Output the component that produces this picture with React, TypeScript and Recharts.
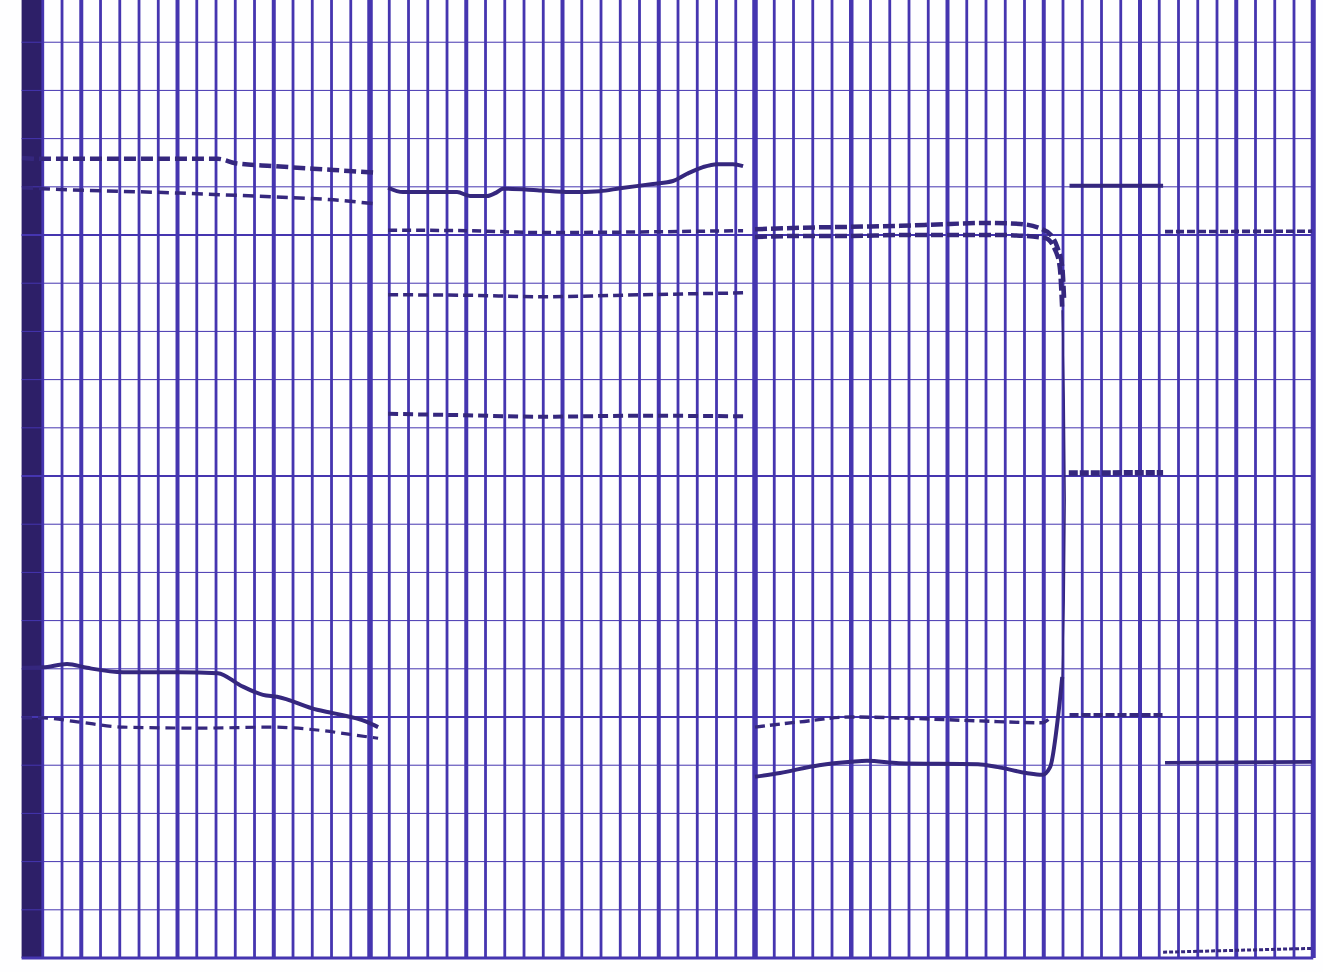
import { Line, LineChart, ReferenceArea, ReferenceLine, XAxis, YAxis } from 'recharts';

// chart paper units: x = minor divisions from the left edge, y = minor divisions above the bottom edge
type Pt = { x: number; y: number };

const gridX = Array.from({ length: 67 }, (_, i) => i);
const gridY = Array.from({ length: 20 }, (_, i) => i);

// panel 1
const p1Top: Pt[] = [
  { x: -1.08, y: 16.6 }, { x: 0, y: 16.58 }, { x: 3, y: 16.58 }, { x: 6.1, y: 16.58 },
  { x: 9.1, y: 16.58 }, { x: 10, y: 16.49 }, { x: 12, y: 16.43 }, { x: 15.1, y: 16.35 }, { x: 17.4, y: 16.29 },
];
const p1Second: Pt[] = [
  { x: -1.08, y: 15.98 }, { x: 0, y: 15.96 }, { x: 7.1, y: 15.87 }, { x: 12, y: 15.79 },
  { x: 15.1, y: 15.73 }, { x: 17.4, y: 15.64 },
];
const p1Solid: Pt[] = [
  { x: -1.08, y: 6.02 }, { x: 0, y: 6.03 }, { x: 1.26, y: 6.1 }, { x: 2.3, y: 6.02 }, { x: 4.17, y: 5.93 },
  { x: 7.13, y: 5.93 }, { x: 9.1, y: 5.91 }, { x: 10.25, y: 5.66 }, { x: 11.44, y: 5.46 }, { x: 12.17, y: 5.42 },
  { x: 14.25, y: 5.15 }, { x: 15.08, y: 5.08 }, { x: 16.84, y: 4.9 }, { x: 17.42, y: 4.79 },
];
const p1Dashed: Pt[] = [
  { x: -1.08, y: 4.98 }, { x: 0, y: 4.98 }, { x: 1.8, y: 4.9 }, { x: 4.17, y: 4.79 }, { x: 8.19, y: 4.77 },
  { x: 11.96, y: 4.79 }, { x: 14.25, y: 4.73 }, { x: 16.84, y: 4.59 }, { x: 17.42, y: 4.56 },
];

// panel 2
const p2Solid: Pt[] = [
  { x: 17.94, y: 15.98 }, { x: 18.71, y: 15.89 }, { x: 20.12, y: 15.89 }, { x: 21.52, y: 15.89 },
  { x: 22.19, y: 15.81 }, { x: 23.08, y: 15.81 }, { x: 23.6, y: 15.89 }, { x: 23.91, y: 15.96 },
  { x: 25.68, y: 15.93 }, { x: 27.39, y: 15.89 }, { x: 28.95, y: 15.91 }, { x: 29.99, y: 15.97 },
  { x: 31.7, y: 16.06 }, { x: 32.74, y: 16.12 }, { x: 33.47, y: 16.27 }, { x: 34.3, y: 16.41 },
  { x: 35.03, y: 16.47 }, { x: 35.86, y: 16.47 }, { x: 36.38, y: 16.43 },
];
const p2DashA: Pt[] = [
  { x: 17.94, y: 15.1 }, { x: 22, y: 15.09 }, { x: 25.99, y: 15.05 }, { x: 30, y: 15.06 }, { x: 36.38, y: 15.09 },
];
const p2DashB: Pt[] = [
  { x: 17.94, y: 13.76 }, { x: 22, y: 13.75 }, { x: 25.99, y: 13.72 }, { x: 31, y: 13.76 }, { x: 36.38, y: 13.8 },
];
const p2DashC: Pt[] = [
  { x: 17.94, y: 11.29 }, { x: 22, y: 11.26 }, { x: 25.68, y: 11.23 }, { x: 31, y: 11.25 }, { x: 36.38, y: 11.24 },
];

// panel 3
const p3DashA: Pt[] = [
  { x: 37, y: 15.12 }, { x: 39.34, y: 15.15 }, { x: 41.94, y: 15.17 }, { x: 44.53, y: 15.19 },
  { x: 47.13, y: 15.23 }, { x: 49, y: 15.25 }, { x: 50.77, y: 15.23 }, { x: 51.92, y: 15.12 },
  { x: 52.33, y: 15.02 }, { x: 52.7, y: 14.75 }, { x: 52.96, y: 14.34 }, { x: 53.06, y: 13.65 },
];
const p3DashB: Pt[] = [
  { x: 37, y: 14.96 }, { x: 39.34, y: 14.98 }, { x: 41.94, y: 14.98 }, { x: 44.53, y: 15.0 },
  { x: 47.13, y: 15.0 }, { x: 49.73, y: 15.0 }, { x: 52.07, y: 14.94 }, { x: 52.59, y: 14.69 },
  { x: 52.83, y: 14.34 }, { x: 52.96, y: 13.44 },
];
const p3Drop: Pt[] = [
  { x: 52.96, y: 13.44 }, { x: 53.06, y: 11.58 }, { x: 53.11, y: 9.5 }, { x: 53.06, y: 7.43 }, { x: 52.96, y: 5.83 },
];
const p3Solid: Pt[] = [
  { x: 37, y: 3.76 }, { x: 38.3, y: 3.84 }, { x: 40.33, y: 4.0 }, { x: 41.99, y: 4.07 }, { x: 42.82, y: 4.09 },
  { x: 44.48, y: 4.04 }, { x: 48.58, y: 4.02 }, { x: 49.62, y: 3.96 }, { x: 51.08, y: 3.84 }, { x: 51.92, y: 3.8 },
  { x: 52.33, y: 3.96 }, { x: 52.74, y: 5.0 }, { x: 52.96, y: 5.83 },
];
const p3Dashed: Pt[] = [
  { x: 37, y: 4.79 }, { x: 39.34, y: 4.9 }, { x: 41.99, y: 5.0 }, { x: 44.48, y: 4.98 },
  { x: 48.58, y: 4.92 }, { x: 51.92, y: 4.88 }, { x: 52.33, y: 4.98 },
];

// panel 4
const p4Solid: Pt[] = [{ x: 53.34, y: 16.02 }, { x: 58.2, y: 16.02 }];
const p4Heavy: Pt[] = [{ x: 53.3, y: 10.06 }, { x: 58.2, y: 10.07 }];
const p4Dashed: Pt[] = [{ x: 53.34, y: 5.04 }, { x: 58.2, y: 5.04 }];

// panel 5
const p5Dashed: Pt[] = [{ x: 58.3, y: 15.07 }, { x: 65.94, y: 15.08 }];
const p5Solid: Pt[] = [{ x: 58.3, y: 4.05 }, { x: 65.94, y: 4.07 }];
const p5Base: Pt[] = [{ x: 58.2, y: 0.12 }, { x: 65.94, y: 0.2 }];

const GRID = '#4535b0';
const INK = '#35277e';

function vWidth(i: number) {
  if (i === 17 || i === 37) return 5.5;
  if (i === 66) return 5;
  if (i === 42) return 4.5;
  if (i % 5 === 2) return 4;
  return 2.8;
}

function App() {
  const trace = (data: Pt[], width: number, dash?: string, type: 'monotone' | 'linear' = 'monotone') => (
    <Line
      data={data}
      dataKey="y"
      type={type}
      stroke={INK}
      strokeWidth={width}
      strokeDasharray={dash}
      dot={false}
      activeDot={false}
      isAnimationActive={false}
    />
  );

  return (
    <div style={{ background: '#fefeff' }}>
      <style>{'body{margin:0} svg{display:block}'}</style>
      <LineChart width={1323} height={972} margin={{ top: 0, right: 9.75, bottom: 14, left: 21.6 }}>
        <XAxis dataKey="x" type="number" domain={[-1.1, 66]} allowDataOverflow hide />
        <YAxis type="number" domain={[0, 19.876]} allowDataOverflow hide />
        <ReferenceArea x1={-1.1} x2={0} y1={0} y2={19.876} fill="#2d1f68" fillOpacity={1} stroke="none" />
        {gridY.map((j) => (
          <ReferenceLine key={'h' + j} y={j} stroke={GRID} strokeWidth={j === 0 ? 3 : j % 5 === 0 ? 1.8 : 1} />
        ))}
        {gridX.map((i) => (
          <ReferenceLine key={'v' + i} x={i} stroke={GRID} strokeWidth={vWidth(i)} />
        ))}

        {trace(p1Top, 4.5, '12 5')}
        {trace(p1Second, 3.5, '11 6')}
        {trace(p1Solid, 4)}
        {trace(p1Dashed, 3.2, '10 6')}

        {trace(p2Solid, 4)}
        {trace(p2DashA, 3.5, '9 5')}
        {trace(p2DashB, 3.5, '10 5')}
        {trace(p2DashC, 4, '10 5')}

        {trace(p3DashA, 4.5, '12 4')}
        {trace(p3DashB, 4.5, '12 4')}
        {trace(p3Drop, 1.6, undefined, 'linear')}
        {trace(p3Solid, 4)}
        {trace(p3Dashed, 3.4, '10 5')}

        {trace(p4Solid, 4)}
        {trace(p4Heavy, 5.5, '9 2')}
        {trace(p4Dashed, 4, '9 3')}

        {trace(p5Dashed, 3.6, '8 3')}
        {trace(p5Solid, 3.6)}
        {trace(p5Base, 3, '4 2')}
      </LineChart>
    </div>
  );
}

export default App;
